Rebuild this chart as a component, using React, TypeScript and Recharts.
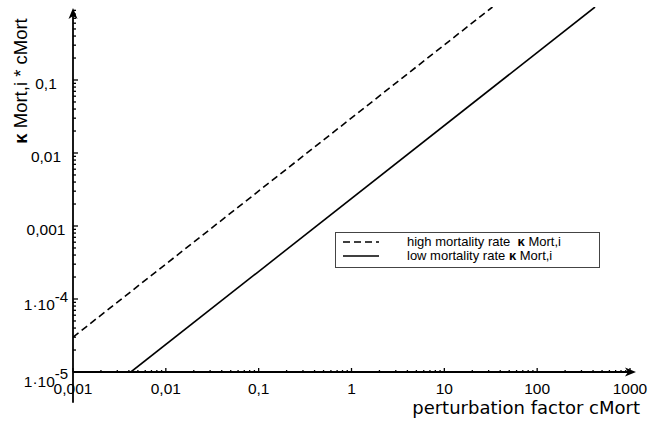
import { Legend, Line, LineChart, ReferenceLine, XAxis, YAxis } from 'recharts'

const X_MAJOR = [0.001, 0.01, 0.1, 1, 10, 100, 1000]
const X_LABELS = ['0,001', '0,01', '0,1', '1', '10', '100', '1000']
const Y_MAJOR = [0.00001, 0.0001, 0.001, 0.01, 0.1]
const Y_LABELS: [string, string | null][] = [
  ['1·10', '-5'],
  ['1·10', '-4'],
  ['0,001', null],
  ['0,01', null],
  ['0,1', null],
]
const MINOR_STEPS = [2, 3, 4, 5, 6, 7, 8, 9]

// end points of both straight lines (log-log, slope 1)
const highMortality = [
  { c: 0.001, v: 0.00003 },
  { c: 33, v: 1 },
]
const lowMortality = [
  { c: 0.0042, v: 0.00001 },
  { c: 420, v: 1 },
]

const withMinor = (majors: number[]) =>
  majors.flatMap((m, i) => (i === majors.length - 1 ? [m] : [m, ...MINOR_STEPS.map((s) => +(m * s).toPrecision(3))]))

const xTicks = withMinor(X_MAJOR)
const yTicks = withMinor([...Y_MAJOR, 1]).filter((t) => t < 1)

const FONT = '"Liberation Sans", Arial, sans-serif'

const isMajor = (list: number[], v: number) => list.findIndex((m) => Math.abs(m - v) / m < 1e-6)

const XTick = ({ x, y, payload }: any) => {
  const idx = isMajor(X_MAJOR, payload.value)
  const len = idx >= 0 ? 4 : 2
  return (
    <g>
      <line x1={x} x2={x} y1={y} y2={y - len} stroke="#000" strokeWidth={1.3} />
      {idx >= 0 && (
        <text x={x} y={y + 21.5} textAnchor="middle" fontFamily={FONT} fontSize={15.5} fill="#000">
          {X_LABELS[idx]}
        </text>
      )}
    </g>
  )
}

const Y_OFFSETS = [14.5, 10.5, 8.5, 8.5, 8.5]

const YTick = ({ x, y, payload }: any) => {
  const idx = isMajor(Y_MAJOR, payload.value)
  const len = idx >= 0 ? 5 : 3
  const label = idx >= 0 ? Y_LABELS[idx] : null
  return (
    <g>
      <line x1={x} x2={x + len} y1={y} y2={y} stroke="#000" strokeWidth={1.3} />
      {label && (
        <text x={46} y={y + Y_OFFSETS[idx]} textAnchor="middle" fontFamily={FONT} fontSize={15.5} fill="#000">
          <tspan>{label[0]}</tspan>
          {label[1] && (
            <tspan dy={-8} fontSize={15}>
              {label[1]}
            </tspan>
          )}
        </text>
      )}
    </g>
  )
}

const Arrow = (props: any) => {
  const { x1, y1, x2, y2 } = props
  const dx = x2 - x1
  const dy = y2 - y1
  const l = Math.hypot(dx, dy) || 1
  const ux = dx / l
  const uy = dy / l
  const hl = 11
  const hw = 4.5
  const bx = x2 - ux * hl
  const by = y2 - uy * hl
  const pts = `${x2},${y2} ${bx - uy * hw},${by + ux * hw} ${x2 - ux * 8},${y2 - uy * 8} ${bx + uy * hw},${by - ux * hw}`
  return (
    <g>
      <line x1={x1} y1={y1} x2={x2 - ux * 6} y2={y2 - uy * 6} stroke="#000" strokeWidth={1.8} />
      <polygon points={pts} fill="#000" />
    </g>
  )
}

const LegendBox = () => (
  <div
    style={{
      border: '1px solid #444',
      background: '#fff',
      width: 263,
      height: 32,
      fontFamily: FONT,
      fontSize: 13,
      lineHeight: '14px',
      paddingTop: 2,
      boxSizing: 'content-box',
    }}
  >
    {[
      { dash: '7 4', pre: 'high mortality rate  ' },
      { dash: undefined, pre: 'low mortality rate ' },
    ].map((row) => (
      <div key={row.pre} style={{ display: 'flex', alignItems: 'center', height: 14, whiteSpace: 'pre' }}>
        <svg width={71} height={14} style={{ display: 'block' }}>
          <line x1={7} x2={43} y1={7} y2={7} stroke="#000" strokeWidth={1.5} strokeDasharray={row.dash} />
        </svg>
        <span>
          {row.pre}
          <b>κ</b> Mort,i
        </span>
      </div>
    ))}
  </div>
)

export default function App() {
  return (
    <div style={{ position: 'absolute', left: 0, top: 0, width: 649, height: 425, background: '#fff' }}>
      <LineChart width={649} height={425} margin={{ top: 7, right: 19, bottom: 0, left: 0 }}>
        <XAxis
          dataKey="c"
          type="number"
          scale="log"
          domain={[0.001, 1000]}
          ticks={xTicks}
          interval={0}
          allowDataOverflow
          height={53}
          axisLine={false}
          tickLine={false}
          tickSize={0}
          tickMargin={0}
          tick={<XTick />}
        />
        <YAxis
          dataKey="v"
          type="number"
          scale="log"
          domain={[0.00001, 1]}
          ticks={yTicks}
          interval={0}
          allowDataOverflow
          width={73}
          axisLine={false}
          tickLine={false}
          tickSize={0}
          tickMargin={0}
          tick={<YTick />}
        />
        <ReferenceLine
          segment={[
            { x: 0.001, y: 0.00001 },
            { x: 1160, y: 0.00001 },
          ]}
          ifOverflow="visible"
          shape={Arrow}
        />
        <ReferenceLine
          segment={[
            { x: 0.001, y: 0.0000038 },
            { x: 0.001, y: 0.97 },
          ]}
          ifOverflow="visible"
          shape={Arrow}
        />
        <Line
          data={highMortality}
          dataKey="v"
          type="linear"
          stroke="#000"
          strokeWidth={1.6}
          strokeDasharray="7 4"
          dot={false}
          isAnimationActive={false}
        />
        <Line
          data={lowMortality}
          dataKey="v"
          type="linear"
          stroke="#000"
          strokeWidth={1.6}
          dot={false}
          isAnimationActive={false}
        />
        <Legend
          layout="horizontal"
          verticalAlign="middle"
          align="center"
          content={<LegendBox />}
          wrapperStyle={{ position: 'absolute', left: 335, top: 232, width: 265 }}
        />
        <text
          x={640}
          y={414}
          textAnchor="end"
          fontFamily='"DejaVu Sans", sans-serif'
          fontSize={18}
          fill="#000"
        >
          perturbation factor cMort
        </text>
        <text
          transform="translate(27,81) rotate(-90)"
          textAnchor="middle"
          fontFamily={FONT}
          fontSize={18.5}
          fill="#000"
        >
          <tspan fontWeight="bold">κ</tspan> Mort,i * cMort
        </text>
      </LineChart>
    </div>
  )
}
